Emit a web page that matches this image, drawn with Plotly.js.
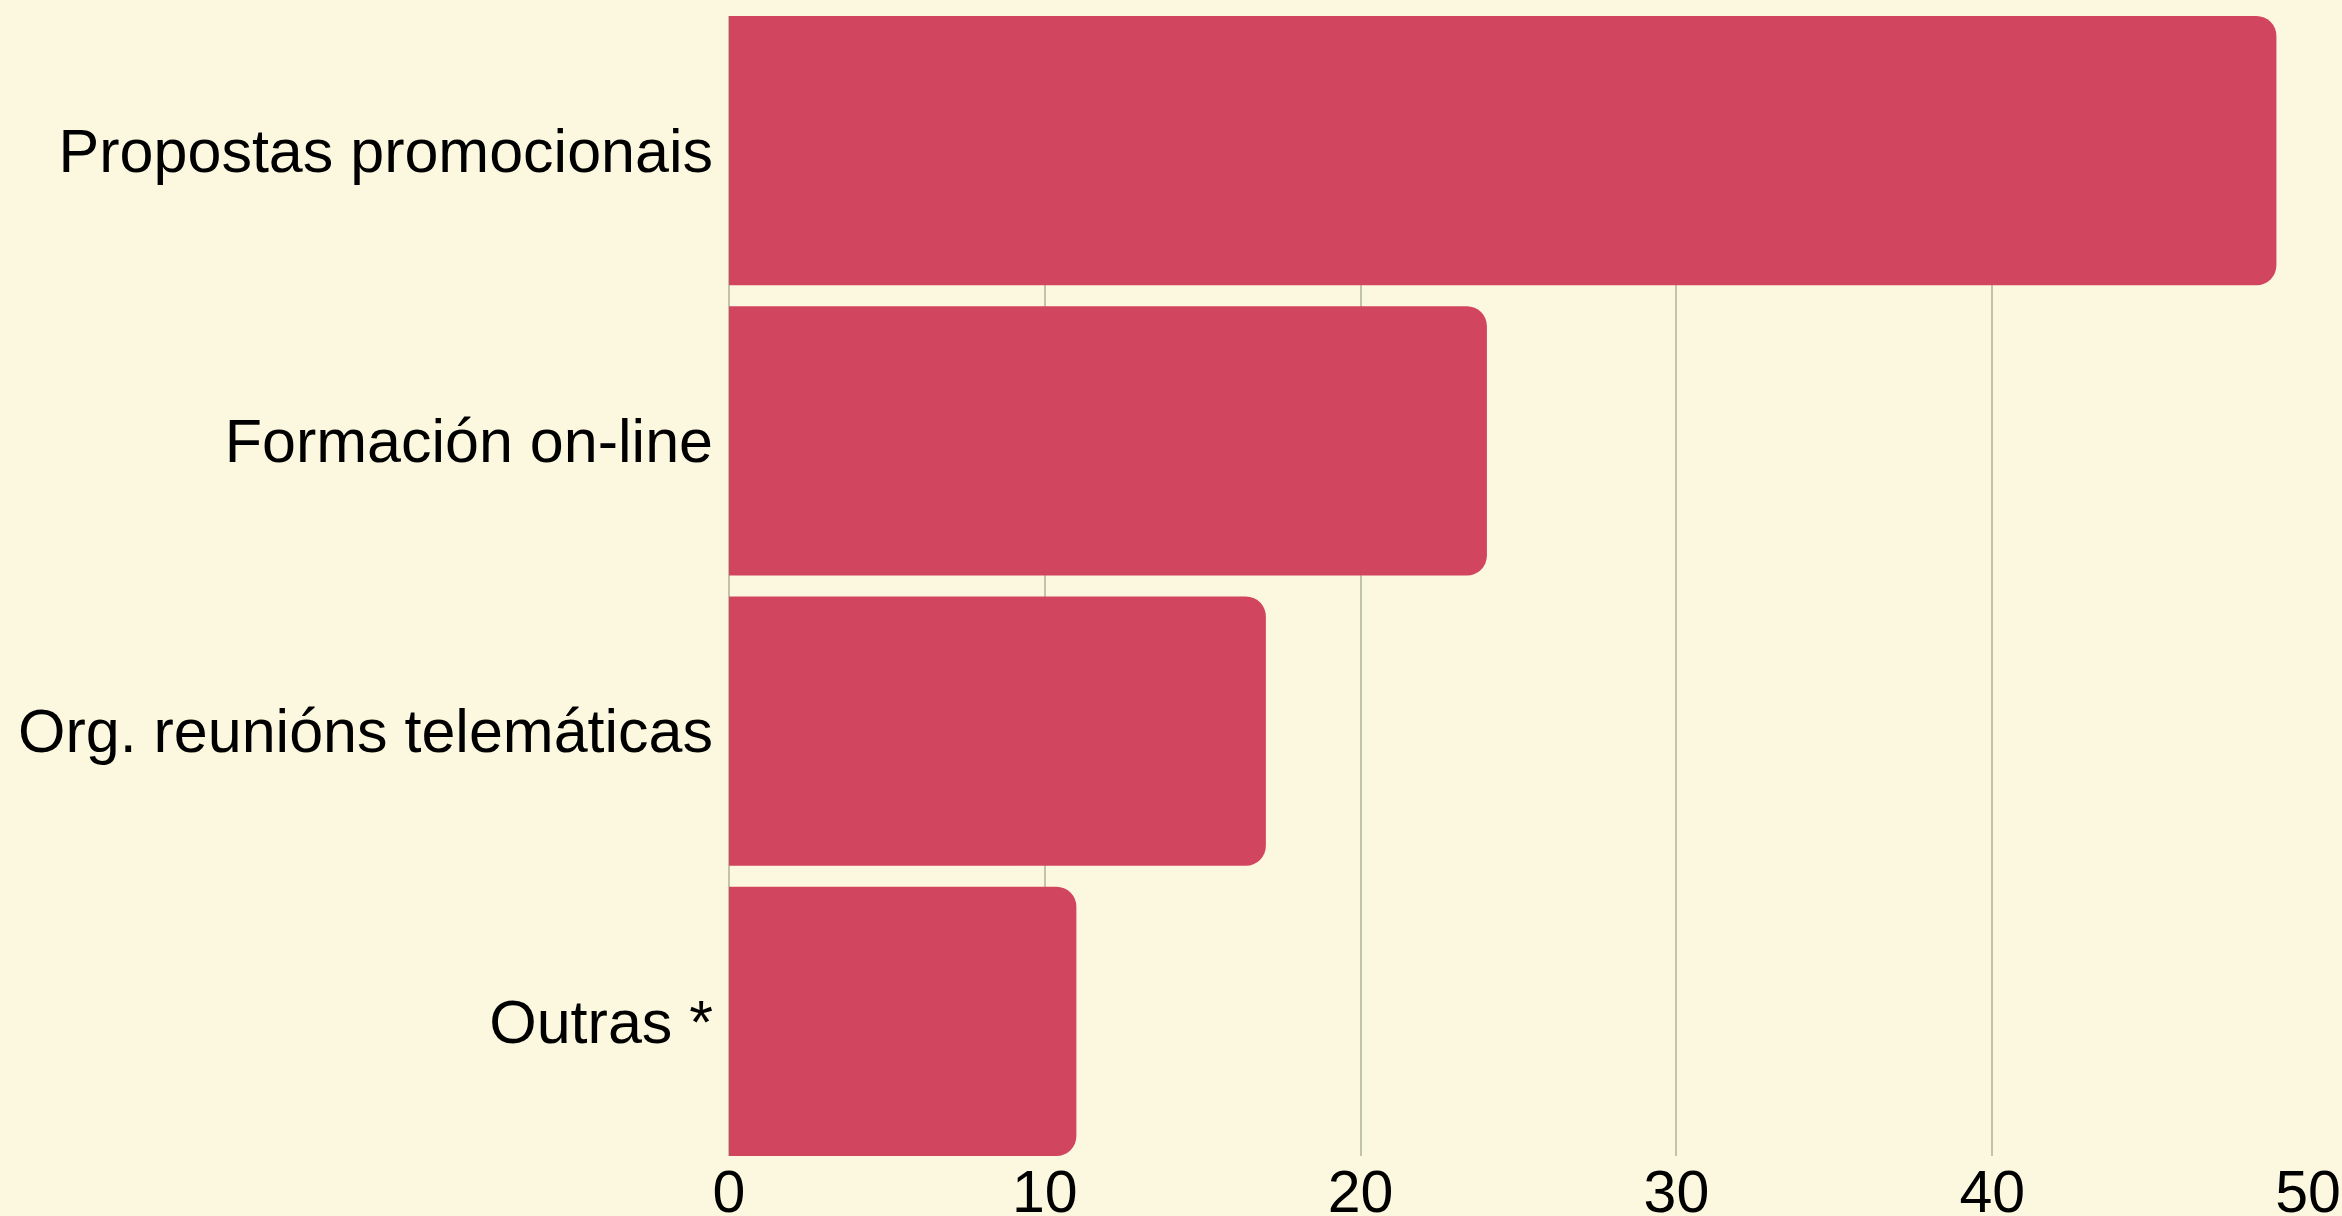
<!DOCTYPE html>
<html>
<head>
<meta charset="utf-8">
<script src="https://cdn.plot.ly/plotly-3.0.1.min.js"></script>
<style>html,body{margin:0;padding:0;background:#fcf8df;}#chart{width:2342px;height:1216px;}</style>
</head>
<body>
<div id="chart"></div>
<script>
// Data
const categories = ["Propostas promocionais", "Formación on-line", "Org. reunións telemáticas", "Outras *"];
const values = [49, 24, 17, 11];
const xTickValues = [0, 10, 20, 30, 40, 50];
const xTickLabels = ["0", "10", "20", "30", "40", "50"];

const bargap = 0.0724;
const w = 1 - bargap;

const trace = {
  type: "bar",
  orientation: "h",
  y: categories,
  x: values,
  marker: { color: "#d1455e", cornerradius: 20, line: { width: 0 } },
  hoverinfo: "x+y"
};

const layout = {
  width: 2342,
  height: 1216,
  paper_bgcolor: "#fcf8df",
  plot_bgcolor: "#fcf8df",
  margin: { l: 729, r: 34, t: 16, b: 60, pad: 0 },
  bargap: bargap,
  showlegend: false,
  font: { family: "Liberation Sans, Arial, sans-serif", color: "#000000", size: 61 },
  xaxis: {
    range: [0, 50],
    tickvals: xTickValues,
    ticktext: xTickLabels,
    showgrid: true,
    gridcolor: "#c2c4aa",
    gridwidth: 2,
    zeroline: true,
    zerolinecolor: "#c2c4aa",
    zerolinewidth: 2,
    showline: false,
    ticks: "",
    ticklabelstandoff: -4,
    tickfont: { size: 59, family: "Liberation Sans, Arial, sans-serif", color: "#000" },
    fixedrange: true
  },
  yaxis: {
    type: "category",
    categoryorder: "array",
    categoryarray: categories.slice().reverse(),
    range: [-w / 2, 3 + w / 2],
    showgrid: false,
    zeroline: false,
    showline: false,
    ticks: "",
    ticklabelstandoff: 15,
    tickfont: { size: 61, family: "Liberation Sans, Arial, sans-serif", color: "#000" },
    fixedrange: true
  }
};

Plotly.newPlot("chart", [trace], layout, { displayModeBar: false, staticPlot: true });
</script>
</body>
</html>
